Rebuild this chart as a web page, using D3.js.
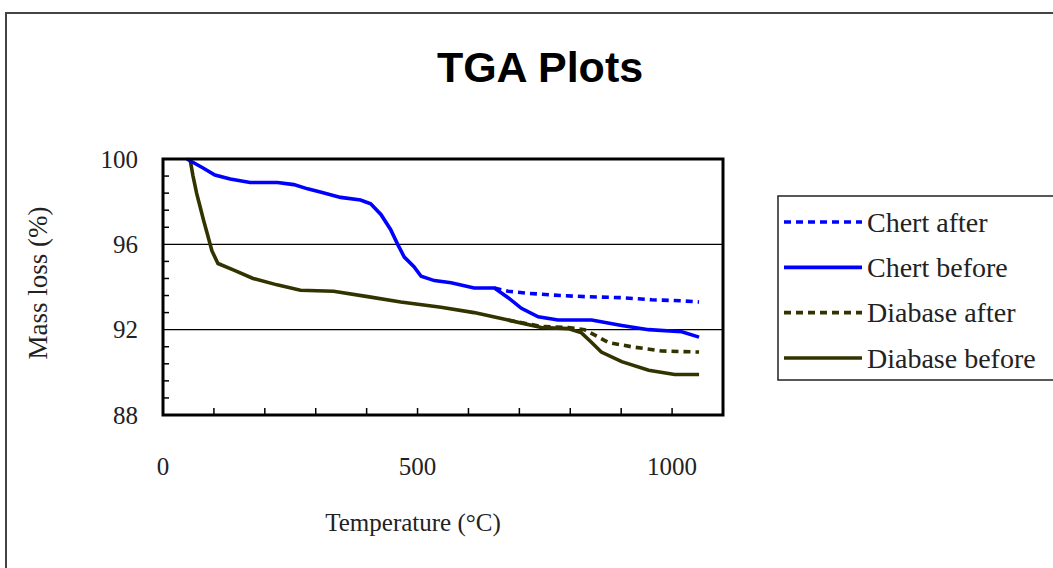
<!DOCTYPE html>
<html>
<head>
<meta charset="utf-8">
<script src="https://cdn.jsdelivr.net/npm/d3@7"></script>
<style>
  html, body { margin: 0; padding: 0; background: #fff; }
  svg { display: block; }
</style>
</head>
<body>
<div id="chart"></div>
<script>
// TGA curves
const chertBeforeT = [47, 77, 102, 132, 171, 225, 257, 284, 309, 349, 388, 408, 428, 447, 461, 474, 493, 507, 533, 566, 611, 651, 678, 704, 737, 776, 842, 901, 954, 1019, 1053];
const chertBeforeM = [100, 99.6, 99.25, 99.06, 98.9, 98.9, 98.8, 98.6, 98.45, 98.2, 98.08, 97.9, 97.4, 96.7, 96.0, 95.4, 94.95, 94.5, 94.3, 94.2, 93.95, 93.95, 93.5, 93.0, 92.6, 92.45, 92.45, 92.2, 92.0, 91.9, 91.65];

const chertAfterT = [651, 678, 720, 780, 828, 900, 960, 1020, 1053];
const chertAfterM = [93.95, 93.8, 93.7, 93.6, 93.55, 93.5, 93.4, 93.35, 93.3];

const diabaseBeforeT = [53, 59, 66, 73, 80, 87, 96, 108, 138, 177, 224, 270, 335, 402, 467, 546, 611, 678, 743, 796, 822, 842, 861, 901, 954, 1005, 1053];
const diabaseBeforeM = [100, 99.2, 98.4, 97.75, 97.1, 96.5, 95.7, 95.1, 94.8, 94.4, 94.1, 93.85, 93.8, 93.55, 93.3, 93.05, 92.8, 92.45, 92.1, 92.05, 91.85, 91.4, 90.95, 90.5, 90.1, 89.9, 89.9];

const diabaseAfterT = [678, 743, 796, 828, 875, 920, 980, 1053];
const diabaseAfterM = [92.45, 92.15, 92.1, 92.0, 91.4, 91.2, 91.0, 90.95];

const xTickLabels = [0, 500, 1000];
const yTickLabels = [88, 92, 96, 100];
const gridValues = [92, 96];

const seriesNames = ['Chert after', 'Chert before', 'Diabase after', 'Diabase before'];

const W = 1053, H = 568;
const BLUE = '#0000ff', OLIVE = '#333300';
const SERIF = '"Liberation Serif", "Times New Roman", serif';

const series = [
  { name: seriesNames[0], t: chertAfterT, m: chertAfterM, color: BLUE, dash: '7,5' },
  { name: seriesNames[1], t: chertBeforeT, m: chertBeforeM, color: BLUE, dash: null },
  { name: seriesNames[2], t: diabaseAfterT, m: diabaseAfterM, color: OLIVE, dash: '7,5' },
  { name: seriesNames[3], t: diabaseBeforeT, m: diabaseBeforeM, color: OLIVE, dash: null },
];

const plot = { left: 163, top: 159, right: 723, bottom: 415 };

const x = d3.scaleLinear().domain([0, 1100]).range([plot.left, plot.right]);
const y = d3.scaleLinear().domain([88, 100]).range([plot.bottom, plot.top]);

const svg = d3.select('#chart').append('svg')
  .attr('width', W).attr('height', H);

// outer chart frame (runs off the right and bottom edge)
svg.append('rect')
  .attr('x', 6).attr('y', 13)
  .attr('width', W + 20).attr('height', H + 20)
  .attr('fill', '#fff').attr('stroke', '#444').attr('stroke-width', 2);

// title
svg.append('text')
  .attr('x', 540).attr('y', 82)
  .attr('text-anchor', 'middle')
  .attr('font-family', '"Liberation Sans", Arial, sans-serif')
  .attr('font-weight', 'bold')
  .attr('font-size', 43)
  .text('TGA Plots');

// gridlines
svg.append('g').selectAll('line')
  .data(gridValues)
  .join('line')
  .attr('x1', plot.left).attr('x2', plot.right)
  .attr('y1', d => y(d)).attr('y2', d => y(d))
  .attr('stroke', '#000').attr('stroke-width', 1.2);

// minor ticks on y (inside), every 0.8
const yMinor = d3.range(88.8, 100, 0.8).filter(v => Math.abs(v - 92) > 0.01 && Math.abs(v - 96) > 0.01);
svg.append('g').selectAll('line')
  .data(yMinor)
  .join('line')
  .attr('x1', plot.left).attr('x2', plot.left + 6)
  .attr('y1', d => y(d)).attr('y2', d => y(d))
  .attr('stroke', '#000').attr('stroke-width', 1.5);

// ticks on x (inside), every 100
svg.append('g').selectAll('line')
  .data(d3.range(100, 1100, 100))
  .join('line')
  .attr('x1', d => x(d)).attr('x2', d => x(d))
  .attr('y1', plot.bottom).attr('y2', plot.bottom - 7)
  .attr('stroke', '#000').attr('stroke-width', 1.5);

// data lines
const line = d3.line()
  .x(d => x(d[0]))
  .y(d => y(d[1]));

svg.append('g').selectAll('path')
  .data([series[3], series[2], series[1], series[0]])
  .join('path')
  .attr('d', s => line(s.t.map((t, i) => [t, s.m[i]])))
  .attr('fill', 'none')
  .attr('stroke', s => s.color)
  .attr('stroke-width', 3.6)
  .attr('stroke-dasharray', s => s.dash);

// plot frame
svg.append('rect')
  .attr('x', plot.left).attr('y', plot.top)
  .attr('width', plot.right - plot.left).attr('height', plot.bottom - plot.top)
  .attr('fill', 'none').attr('stroke', '#000').attr('stroke-width', 3);

// tick labels
svg.append('g').selectAll('text')
  .data(yTickLabels)
  .join('text')
  .attr('x', 138).attr('y', d => y(d))
  .attr('dy', '0.35em')
  .attr('text-anchor', 'end')
  .attr('font-family', SERIF).attr('font-size', 25).attr('fill', '#222')
  .text(d => d);

svg.append('g').selectAll('text')
  .data(xTickLabels)
  .join('text')
  .attr('x', d => x(d)).attr('y', 466)
  .attr('dy', '0.35em')
  .attr('text-anchor', 'middle')
  .attr('font-family', SERIF).attr('font-size', 25).attr('fill', '#222')
  .text(d => d);

// axis titles
svg.append('text')
  .attr('x', 413).attr('y', 522)
  .attr('dy', '0.35em')
  .attr('text-anchor', 'middle')
  .attr('font-family', SERIF).attr('font-size', 25).attr('fill', '#222')
  .text('Temperature (°C)');

svg.append('text')
  .attr('transform', 'translate(38,283) rotate(-90)')
  .attr('dy', '0.35em')
  .attr('text-anchor', 'middle')
  .attr('font-family', SERIF).attr('font-size', 27).attr('fill', '#222')
  .text('Mass loss (%)');

// legend
const lg = svg.append('g');
lg.append('rect')
  .attr('x', 778).attr('y', 196)
  .attr('width', 300).attr('height', 184)
  .attr('fill', '#fff').attr('stroke', '#222').attr('stroke-width', 1.5);

const rowY = d3.scalePoint().domain(seriesNames).range([222, 358]);

const items = lg.selectAll('g.item')
  .data(series)
  .join('g').attr('class', 'item')
  .attr('transform', s => `translate(0,${rowY(s.name)})`);

items.append('line')
  .attr('x1', 784).attr('x2', 862)
  .attr('stroke', s => s.color)
  .attr('stroke-width', 3.6)
  .attr('stroke-dasharray', s => s.dash);

items.append('text')
  .attr('x', 867).attr('dy', '0.35em')
  .attr('font-family', SERIF).attr('font-size', 28).attr('fill', '#222')
  .text(s => s.name);
</script>
</body>
</html>
